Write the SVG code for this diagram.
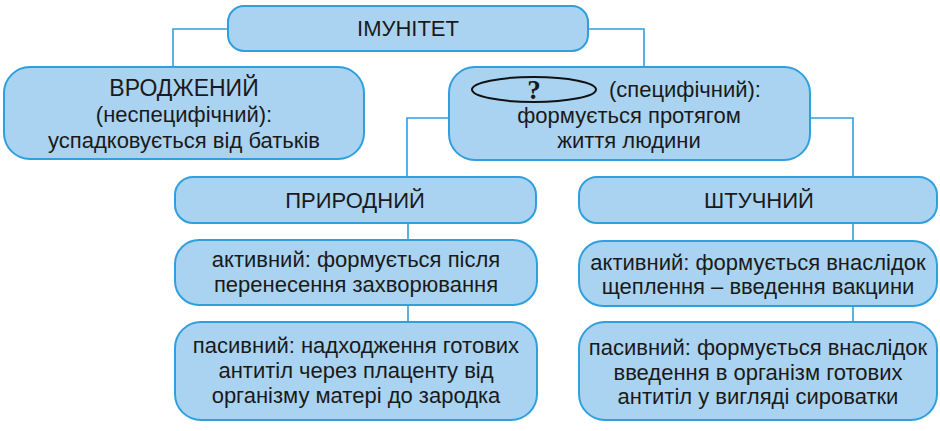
<svg xmlns="http://www.w3.org/2000/svg" width="940" height="431" viewBox="0 0 940 431">
<style>
.box{fill:#a9d3f1;stroke:#2f9fde;stroke-width:2}
.ln{fill:none;stroke:#2f9fde;stroke-width:1.6}
text{font-family:"Liberation Sans",Arial,sans-serif;font-size:22px;fill:#1a1a1a;text-anchor:middle}
</style>
<rect width="940" height="431" fill="#ffffff"/>
<g id="connectors">
<polyline class="ln" points="228,29 173,29 173,67"/>
<polyline class="ln" points="588,29 644,29 644,67"/>
<polyline class="ln" points="449,118 407,118 407,178"/>
<polyline class="ln" points="810,118 853,118 853,178"/>
<line class="ln" x1="408" y1="223" x2="408" y2="240"/>
<line class="ln" x1="408" y1="305" x2="408" y2="322"/>
<line class="ln" x1="853" y1="223" x2="853" y2="241"/>
<line class="ln" x1="853" y1="306" x2="853" y2="322"/>
</g>
<g id="imunitet">
<rect class="box" x="228" y="6" width="360" height="45" rx="16"/>
<text x="408" y="36">ІМУНІТЕТ</text>
</g>
<g id="vrodzhenyi">
<rect class="box" x="4" y="67" width="360" height="92" rx="26"/>
<text x="184" y="96" style="font-size:23px">ВРОДЖЕНИЙ</text>
<text x="184" y="122">(неспецифічний):</text>
<text x="184" y="148">успадковується від батьків</text>
</g>
<g id="nabutyi">
<rect class="box" x="449" y="67" width="361" height="93" rx="26"/>
<ellipse cx="534" cy="89.5" rx="62" ry="12.5" fill="none" stroke="#111" stroke-width="2"/>
<text x="534" y="99" style="font-family:'Liberation Serif',serif;font-weight:bold;font-size:27px">?</text>
<text x="685" y="97">(специфічний):</text>
<text x="629" y="123">формується протягом</text>
<text x="629" y="148">життя людини</text>
</g>
<g id="pryrodnyi">
<rect class="box" x="175" y="177" width="361" height="46" rx="18"/>
<text x="355" y="208">ПРИРОДНИЙ</text>
</g>
<g id="pryrodnyi-aktyvnyi">
<rect class="box" x="175" y="240" width="362" height="65" rx="24"/>
<text x="356" y="267">активний: формується після</text>
<text x="356" y="292">перенесення захворювання</text>
</g>
<g id="pryrodnyi-pasyvnyi">
<rect class="box" x="175" y="322" width="362" height="98" rx="26"/>
<text x="356" y="353">пасивний: надходження готових</text>
<text x="356" y="378">антитіл через плаценту від</text>
<text x="356" y="403">організму матері до зародка</text>
</g>
<g id="shtuchnyi">
<rect class="box" x="579" y="177" width="358" height="46" rx="18"/>
<text x="759" y="208">ШТУЧНИЙ</text>
</g>
<g id="shtuchnyi-aktyvnyi">
<rect class="box" x="579" y="241" width="358" height="65" rx="24"/>
<text x="758" y="270">активний: формується внаслідок</text>
<text x="758" y="294">щеплення – введення вакцини</text>
</g>
<g id="shtuchnyi-pasyvnyi">
<rect class="box" x="579" y="322" width="358" height="98" rx="26"/>
<text x="758" y="355">пасивний: формується внаслідок</text>
<text x="758" y="380">введення в організм готових</text>
<text x="758" y="404">антитіл у вигляді сироватки</text>
</g>
</svg>
